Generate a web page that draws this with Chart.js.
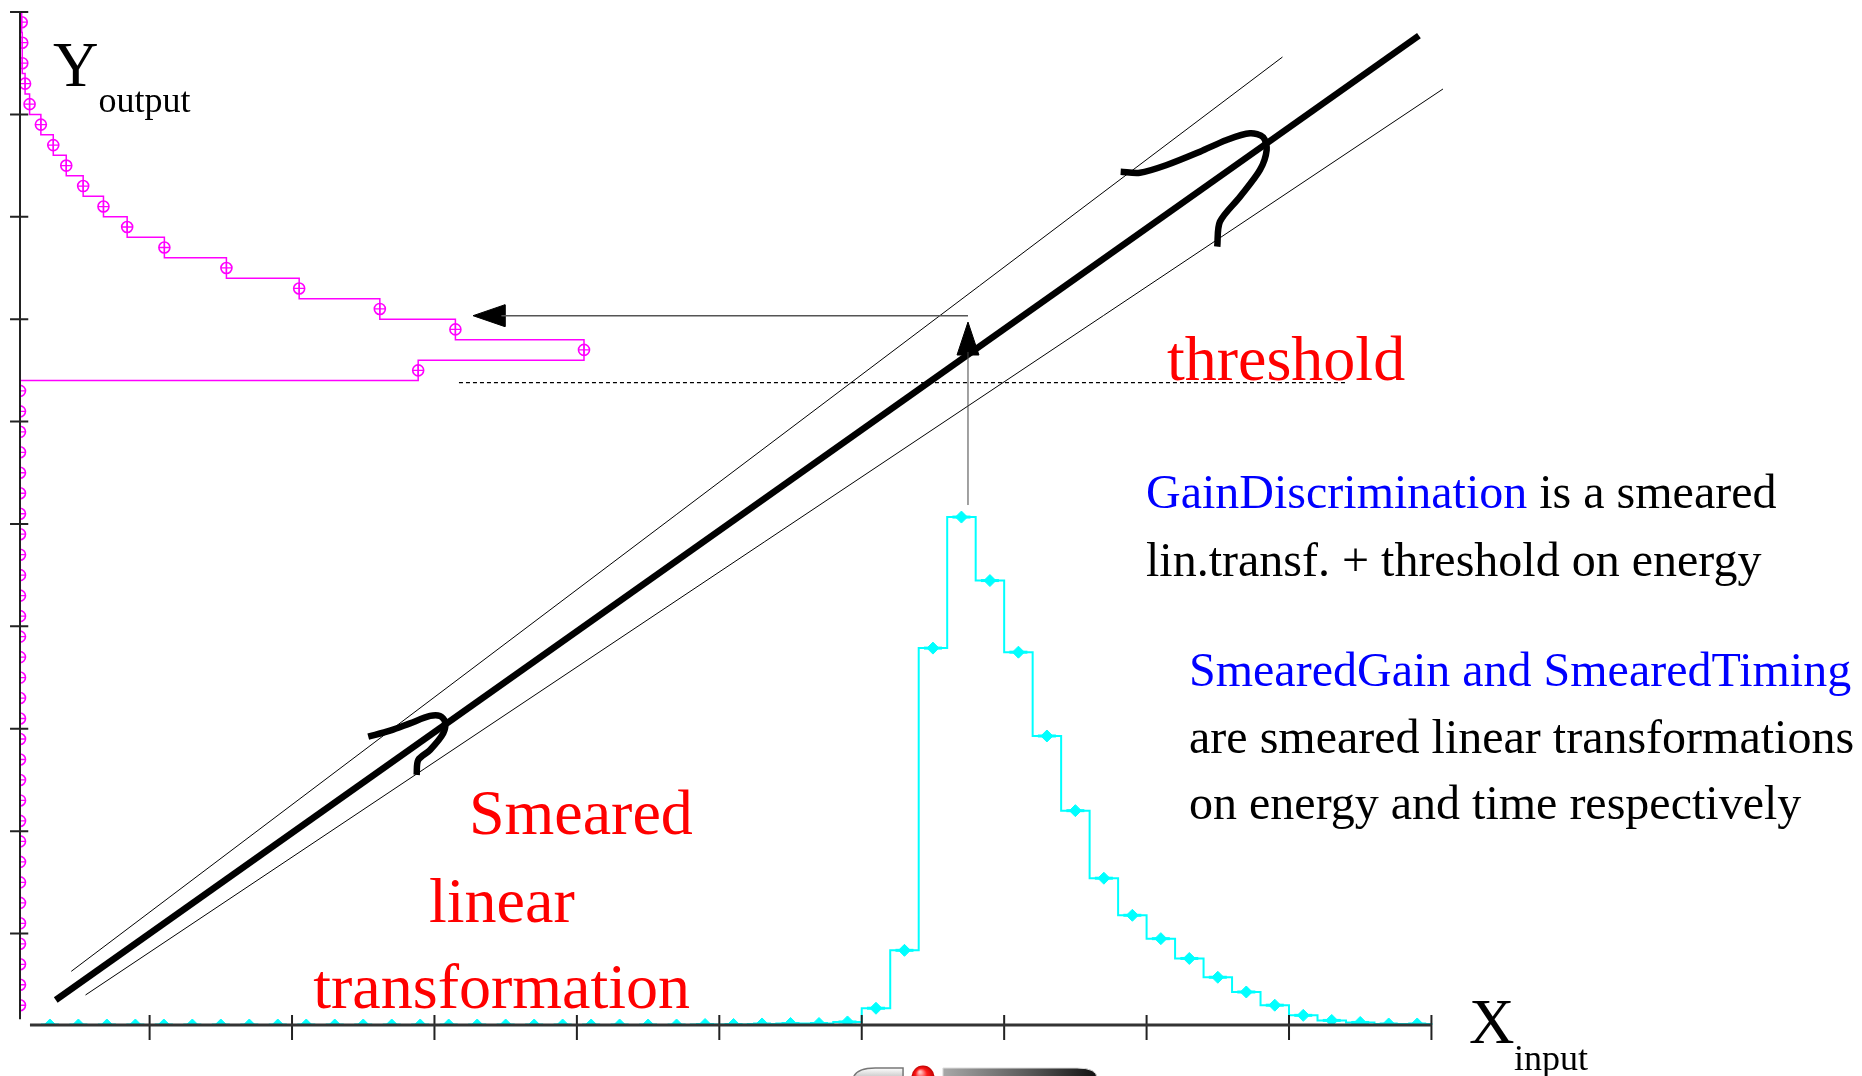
<!DOCTYPE html>
<html>
<head>
<meta charset="utf-8">
<script src="https://cdn.jsdelivr.net/npm/chart.js@4.4.0/dist/chart.umd.min.js"></script>
<style>
  html, body { margin: 0; padding: 0; background: #fff; }
  canvas { display: block; }
</style>
</head>
<body>
<canvas id="chart" width="1862" height="1076"></canvas>
<script>
// ---------- data ----------
// bin edges, shared by the input (x) and output (y) histograms
const binEdges = [0.2, 0.4, 0.6, 0.8, 1.0, 1.2, 1.4, 1.6, 1.8, 2.0,
                  2.2, 2.4, 2.6, 2.8, 3.0, 3.2, 3.4, 3.6, 3.8, 4.0,
                  4.2, 4.4, 4.6, 4.8, 5.0, 5.2, 5.4, 5.6, 5.8, 6.0,
                  6.2, 6.4, 6.6, 6.8, 7.0, 7.2, 7.4, 7.6, 7.8, 8.0,
                  8.2, 8.4, 8.6, 8.8, 9.0, 9.2, 9.4, 9.6, 9.8, 10.0];

// cyan histogram along X (input energy)
const inputCounts = [0, 0, 0, 0, 0, 0, 0, 0, 0, 0,
                     0, 0, 0, 0, 0, 0, 0, 0, 0, 0,
                     0, 0, 0, 1, 1, 2, 3, 3, 6, 33,
                     147, 742, 1000, 875, 734, 569, 422, 289, 216, 170,
                     131, 94, 65, 39, 19, 9, 5, 2, 2];

// magenta histogram along Y (output, cut below threshold)
const outputCounts = [0, 0, 0, 0, 0, 0, 0, 0, 0, 0,
                      0, 0, 0, 0, 0, 0, 0, 0, 0, 0,
                      0, 0, 0, 0, 0, 0, 0, 0, 0, 0,
                      0, 706, 1000, 772, 638, 495, 366, 256, 190, 148,
                      112, 82, 59, 37, 17, 9, 4, 4, 3];

const xTicks = [1, 2, 3, 4, 5, 6, 7, 8, 9, 10];
const yTicks = [1, 2, 3, 4, 5, 6, 7, 8, 9, 10];
const thresholdY = 6.38;

// ---------- colours ----------
const CYAN = "#00ffff";
const MAGENTA = "#ff00ff";
const RED = "#ff0000";
const BLUE = "#0000ff";

// scale ranges
const X_MIN = 0.09, X_MAX = 13.023;
const Y_MIN = 0.107, Y_MAX = 10.117;

/* ---------- helpers ---------- */
function centers(edges) {
    return edges.slice(0, -1).map((e, i) => (e + edges[i + 1]) / 2);
}

function stepX(edges, counts) {
    const pts = [{ x: edges[0], y: 0 }];
    counts.forEach((c, i) => pts.push({ x: edges[i], y: c }, { x: edges[i + 1], y: c }));
    pts.push({ x: edges[edges.length - 1], y: 0 });
    return pts;
}

function stepY(edges, counts) {
    const pts = [{ x: 0, y: edges[edges.length - 1] }];
    for (let i = counts.length - 1; i >= 0; i--) {
        pts.push({ x: counts[i], y: edges[i + 1] }, { x: counts[i], y: edges[i] });
    }
    pts.push({ x: 0, y: edges[0] });
    return pts;
}

function segments(list) {
    // list of [x1,y1,x2,y2] -> points with gaps
    const pts = [];
    list.forEach(s => pts.push({ x: s[0], y: s[1] }, { x: s[2], y: s[3] }, { x: s[2], y: null }));
    return pts;
}

function line(data, opts) {
    return Object.assign({
        data: data,
        showLine: true,
        pointRadius: 0,
        borderColor: "#000",
        borderWidth: 1,
        spanGaps: false,
        clip: false
    }, opts);
}

const mids = centers(binEdges);

/* ---------- diagram pieces (in axis units) ---------- */
const axisLines = [
    line([{ x: 0.16, y: Y_MIN }, { x: 10, y: Y_MIN }], { borderWidth: 3, borderColor: "#333" }),
    line(segments(xTicks.map(t => [t, 0.205, t, -0.04])), { borderWidth: 2, borderColor: "#222" }),
    line([{ x: X_MIN, y: 0.164 }, { x: X_MIN, y: 10 }], { borderWidth: 2, borderColor: "#222" }),
    line(segments(yTicks.map(t => [0.02, t, 0.148, t])), { borderWidth: 2, borderColor: "#222" })
];

const arrows = [
    // horizontal arrow towards output histogram
    line([{ x: 6.746, y: 7.034 }, { x: 3.47, y: 7.034 }], { borderWidth: 1.5, borderColor: "#555" }),
    line([{ x: 3.271, y: 7.034 }, { x: 3.495, y: 7.141 }, { x: 3.495, y: 6.927 }, { x: 3.271, y: 7.034 }],
        { fill: "shape", backgroundColor: "#000", borderWidth: 1 }),
    // vertical arrow from input peak
    line([{ x: 6.746, y: 5.185 }, { x: 6.746, y: 6.68 }], { borderWidth: 1, borderColor: "#444" }),
    line([{ x: 6.746, y: 6.972 }, { x: 6.669, y: 6.65 }, { x: 6.823, y: 6.65 }, { x: 6.746, y: 6.972 }],
        { fill: "shape", backgroundColor: "#000", borderWidth: 1 }),
    // threshold
    line([{ x: 3.172, y: thresholdY }, { x: 9.393, y: thresholdY }], { borderWidth: 1.2, borderDash: [4, 3] })
];

const transfer = [
    line([{ x: 0.341, y: 0.351 }, { x: 9.912, y: 9.769 }], { borderWidth: 6.5 }),
    line([{ x: 0.45, y: 0.631 }, { x: 8.954, y: 9.56 }], { borderWidth: 1 }),
    line([{ x: 0.55, y: 0.40 }, { x: 10.081, y: 9.248 }], { borderWidth: 1 }),
    // upper curved arrow head
    line([{ x: 7.818, y: 8.440 }, { x: 7.953, y: 8.430 }, { x: 8.141, y: 8.506 }, { x: 8.375, y: 8.636 },
          { x: 8.562, y: 8.750 }, { x: 8.726, y: 8.815 }, { x: 8.819, y: 8.776 }, { x: 8.843, y: 8.652 },
          { x: 8.796, y: 8.457 }, { x: 8.656, y: 8.196 }, { x: 8.515, y: 7.952 }, { x: 8.496, y: 7.708 }],
        { borderWidth: 6.5, tension: 0.3, borderJoinStyle: "round" }),
    // lower curved arrow head
    line([{ x: 2.535, y: 2.923 }, { x: 2.688, y: 2.981 }, { x: 2.828, y: 3.053 }, { x: 2.969, y: 3.125 },
          { x: 3.039, y: 3.125 }, { x: 3.074, y: 3.069 }, { x: 3.062, y: 2.956 }, { x: 2.969, y: 2.793 },
          { x: 2.886, y: 2.695 }, { x: 2.875, y: 2.549 }],
        { borderWidth: 6.5, tension: 0.3, borderJoinStyle: "round" })
];

const inputHist = [
    { data: mids.map((m, i) => ({ x: m, y: inputCounts[i] })), yAxisID: "yc",
      pointStyle: "rectRot", pointRadius: 6, backgroundColor: CYAN, borderColor: CYAN, borderWidth: 1 },
    { data: mids.map((m, i) => ({ x: m, y: inputCounts[i] })), yAxisID: "yc",
      pointStyle: "line", pointRadius: 9, borderColor: CYAN, borderWidth: 3 },
    { data: stepX(binEdges, inputCounts), yAxisID: "yc", showLine: true, pointRadius: 0,
      borderColor: CYAN, borderWidth: 2 }
];

const outputHist = [
    { data: mids.map((m, i) => ({ x: outputCounts[i], y: m })), xAxisID: "xm",
      pointStyle: "circle", pointRadius: 5.5, backgroundColor: "rgba(0,0,0,0)", borderColor: MAGENTA, borderWidth: 1.6 },
    { data: mids.map((m, i) => ({ x: outputCounts[i], y: m })), xAxisID: "xm",
      pointStyle: "cross", pointRadius: 5.5, borderColor: MAGENTA, borderWidth: 1.3 },
    { data: stepY(binEdges, outputCounts), xAxisID: "xm", showLine: true, pointRadius: 0,
      borderColor: MAGENTA, borderWidth: 1.5 }
];

/* ---------- texts ---------- */
const texts = [
    { x: 0.322, y: 9.282, size: 63, parts: [["Y", "#000"]] },
    { x: 0.642, y: 9.026, size: 36, parts: [["output", "#000"]] },
    { x: 10.263, y: -0.065, size: 63, parts: [["X", "#000"]] },
    { x: 10.579, y: -0.332, size: 36, parts: [["input", "#000"]] },
    { x: 8.143, y: 6.406, size: 64, parts: [["threshold", RED]] },
    { x: 3.242, y: 1.972, size: 64, parts: [["Smeared", RED]] },
    { x: 2.962, y: 1.116, size: 64, parts: [["linear", RED]] },
    { x: 2.149, y: 0.270, size: 64, parts: [["transformation", RED]] },
    { x: 7.996, y: 5.156, size: 48, parts: [["GainDiscrimination", BLUE], [" is a smeared", "#000"]] },
    { x: 7.996, y: 4.492, size: 48, parts: [["lin.transf. + threshold on energy", "#000"]] },
    { x: 8.298, y: 3.418, size: 48, parts: [["SmearedGain and SmearedTiming", BLUE]] },
    { x: 8.298, y: 2.763, size: 48, parts: [["are smeared linear transformations", "#000"]] },
    { x: 8.298, y: 2.114, size: 48, parts: [["on energy and time respectively", "#000"]] }
];

const textPlugin = {
    id: "texts",
    afterDatasetsDraw(chart) {
        const { ctx, scales: { x, y } } = chart;
        ctx.save();
        ctx.textBaseline = "alphabetic";
        texts.forEach(t => {
            let px = x.getPixelForValue(t.x);
            const py = y.getPixelForValue(t.y);
            ctx.font = `${t.size}px "Liberation Serif", "DejaVu Serif", serif`;
            t.parts.forEach(([s, color]) => {
                ctx.fillStyle = color;
                ctx.fillText(s, px, py);
                px += ctx.measureText(s).width;
            });
        });
        ctx.restore();
    }
};

// the logo peeking in at the bottom edge
const logoPlugin = {
    id: "logo",
    afterDraw(chart) {
        const { ctx, scales: { x, y } } = chart;
        const top = y.getPixelForValue(-0.313);
        const bot = chart.height + 2;
        ctx.save();

        const a = x.getPixelForValue(5.94), b = x.getPixelForValue(6.29);
        const g = ctx.createLinearGradient(0, top, 0, bot);
        g.addColorStop(0, "#ffffff");
        g.addColorStop(1, "#c4c4c4");
        ctx.beginPath();
        ctx.moveTo(a, bot);
        ctx.quadraticCurveTo(a + 3, top, a + 22, top);
        ctx.lineTo(b, top);
        ctx.lineTo(b, bot);
        ctx.closePath();
        ctx.fillStyle = g;
        ctx.fill();
        ctx.strokeStyle = "#777";
        ctx.lineWidth = 1.5;
        ctx.stroke();

        const cx = x.getPixelForValue(6.43), cy = top + 9;
        const rg = ctx.createRadialGradient(cx - 3, cy - 5, 1, cx, cy, 11.5);
        rg.addColorStop(0, "#ffc0c0");
        rg.addColorStop(0.45, "#ff1a1a");
        rg.addColorStop(1, "#c00000");
        ctx.beginPath();
        ctx.arc(cx, cy, 11.5, 0, Math.PI * 2);
        ctx.fillStyle = rg;
        ctx.fill();

        const c = x.getPixelForValue(6.57), d = x.getPixelForValue(7.652);
        const dg = ctx.createLinearGradient(c, 0, d, 0);
        dg.addColorStop(0, "#a8a8a8");
        dg.addColorStop(0.55, "#5a5a5a");
        dg.addColorStop(1, "#111");
        ctx.beginPath();
        ctx.moveTo(c, bot);
        ctx.lineTo(c, top);
        ctx.lineTo(d - 20, top);
        ctx.quadraticCurveTo(d, top, d, bot);
        ctx.closePath();
        ctx.fillStyle = dg;
        ctx.fill();
        ctx.strokeStyle = "#ddd";
        ctx.lineWidth = 1;
        ctx.stroke();
        ctx.restore();
    }
};

/* ---------- chart ---------- */
const ctx = document.getElementById("chart").getContext("2d");

new Chart(ctx, {
    type: "scatter",
    data: {
        datasets: [].concat(axisLines, arrows, transfer, inputHist, outputHist)
    },
    options: {
        responsive: false,
        animation: false,
        devicePixelRatio: 1,
        events: [],
        layout: { autoPadding: false, padding: { left: 20, right: 0, top: 0, bottom: 51 } },
        plugins: {
            legend: { display: false },
            tooltip: { enabled: false }
        },
        scales: {
            x: { type: "linear", min: X_MIN, max: X_MAX, display: false },
            y: { type: "linear", min: Y_MIN, max: Y_MAX, display: false },
            xm: { type: "linear", axis: "x", min: 0, max: 3266, display: false },
            yc: { type: "linear", axis: "y", min: 0, max: 2018, display: false }
        }
    },
    plugins: [textPlugin, logoPlugin]
});
</script>
</body>
</html>
